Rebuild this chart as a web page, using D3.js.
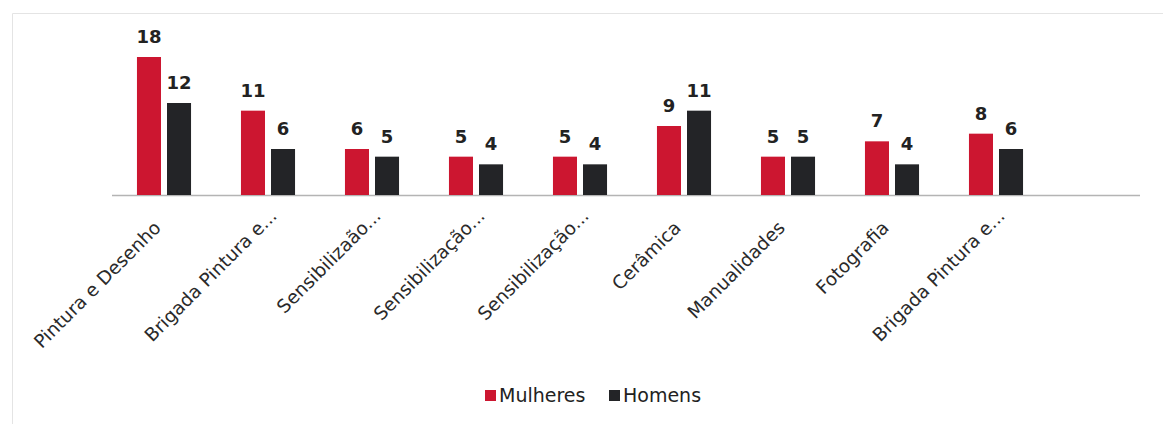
<!DOCTYPE html>
<html>
<head>
<meta charset="utf-8">
<script src="https://cdn.jsdelivr.net/npm/d3@7"></script>
<style>
  body { margin: 0; background: #fff; }
  text { font-family: "DejaVu Sans", Verdana, sans-serif; }
</style>
</head>
<body>
<svg class="chart"></svg>
<script>
// data
const categories = ["Pintura e Desenho", "Brigada Pintura e...", "Sensibilizaão...", "Sensibilização...",
    "Sensibilização...", "Cerâmica", "Manualidades", "Fotografia", "Brigada Pintura e..."];
const series = ["Mulheres", "Homens"];
const mulheres = [18, 11, 6, 5, 5, 9, 5, 7, 8];
const homens = [12, 6, 5, 4, 4, 11, 5, 4, 6];
const colors = ["#cc1630", "#232427"];

const canvas = {width: 1163, height: 424};
const plot = {left: 112, step: 104, baseline: 195, axisEnd: 1140};

const svg = d3.select(".chart")
    .attr("width", canvas.width)
    .attr("height", canvas.height);

// faint frame edges of the scanned chart (only top and left show)
svg.append("path")
    .attr("d", "M12.5,424V13.5H1163")
    .attr("fill", "none")
    .attr("stroke", "#e4e4e4");

// use index keys since two categories share a label
const keys = categories.map((c, i) => i);

const x = d3.scaleBand()
    .domain(keys)
    .range([plot.left, plot.left + plot.step * categories.length]);

const xSub = d3.scaleBand()
    .domain(series)
    .range([x.bandwidth() * 0.24, x.bandwidth() * 0.76])
    .paddingInner(0.2);

const y = d3.scaleLinear()
    .domain([0, 18])
    .range([plot.baseline, 57]);

const rows = keys.map(i => ({key: i, values: [mulheres[i], homens[i]]}));

// axis line
svg.append("line")
    .attr("x1", plot.left).attr("x2", plot.axisEnd)
    .attr("y1", plot.baseline + 0.5).attr("y2", plot.baseline + 0.5)
    .attr("stroke", "#b4b4b4")
    .attr("stroke-width", 1.5);

const groups = svg.selectAll(".grp")
    .data(rows)
    .enter()
    .append("g")
    .classed("grp", true)
    .attr("transform", d => "translate(" + x(d.key) + ",0)");

groups.selectAll("rect")
    .data(d => d.values.map((v, j) => ({s: series[j], v: v, j: j})))
    .enter()
    .append("rect")
    .attr("x", d => xSub(d.s))
    .attr("y", d => y(d.v))
    .attr("width", xSub.bandwidth())
    .attr("height", d => plot.baseline - y(d.v))
    .attr("fill", d => colors[d.j]);

groups.selectAll(".val")
    .data(d => d.values.map((v, j) => ({s: series[j], v: v})))
    .enter()
    .append("text")
    .classed("val", true)
    .attr("x", d => xSub(d.s) + xSub.bandwidth() / 2)
    .attr("y", d => y(d.v) - 14)
    .attr("text-anchor", "middle")
    .style("font-size", "18px")
    .style("font-weight", "bold")
    .attr("fill", "#222")
    .text(d => d.v);

// category labels, rotated; truncated ones sit a little further along
svg.selectAll(".cat")
    .data(keys)
    .enter()
    .append("text")
    .classed("cat", true)
    .attr("transform", i => "translate(" + (x(i) + x.bandwidth() / 2 - 2) + "," + (plot.baseline + 34) + ") rotate(-45)")
    .attr("dx", i => categories[i].endsWith("...") ? 17 : 0)
    .attr("text-anchor", "end")
    .style("font-size", "18.5px")
    .attr("fill", "#2a2a2a")
    .text(i => categories[i]);

// legend
const legend = svg.append("g").attr("transform", "translate(485,390)");
const legendX = [0, 124];
series.forEach((s, j) => {
    const g = legend.append("g").attr("transform", "translate(" + legendX[j] + ",0)");
    g.append("rect").attr("width", 11).attr("height", 11).attr("fill", colors[j]);
    g.append("text").attr("x", 14).attr("y", 12)
        .style("font-size", "19px")
        .attr("fill", "#222")
        .text(s);
});
</script>
</body>
</html>
